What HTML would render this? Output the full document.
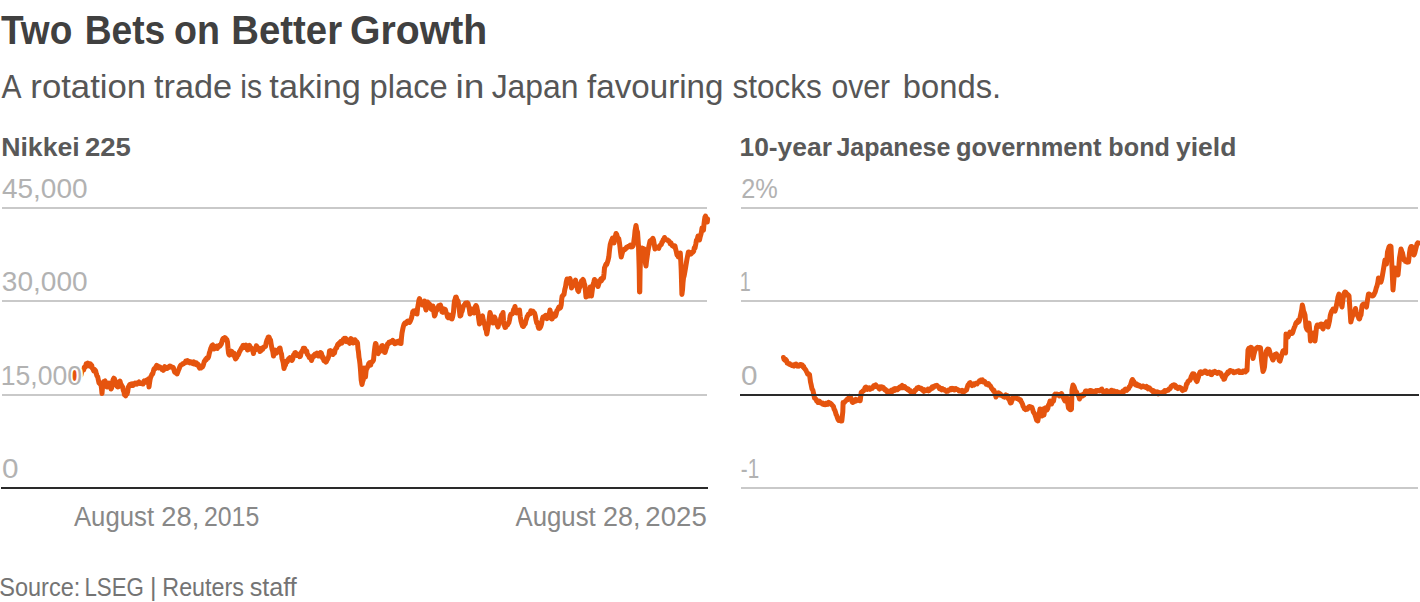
<!DOCTYPE html>
<html><head><meta charset="utf-8"><title>Two Bets on Better Growth</title>
<style>
html,body{margin:0;padding:0;background:#fff;}
body{width:1420px;height:602px;overflow:hidden;font-family:"Liberation Sans",sans-serif;}
svg{display:block;font-family:"Liberation Sans",sans-serif;}
.title{font-weight:bold;font-size:40px;fill:#404040;}
.sub{font-size:34px;fill:#565656;}
.head{font-weight:bold;font-size:25px;fill:#595959;}
.tick{font-size:27px;fill:#b2b2b2;paint-order:stroke;stroke:#fff;stroke-width:4px;stroke-linejoin:round;}
.date{font-size:27px;fill:#888888;}
.src{font-size:25px;fill:#747474;}
.grid{stroke:#c9c9c9;stroke-width:2;}
.zero{stroke:#2a2a2a;stroke-width:2;}
.ln{fill:none;stroke:#e5540e;stroke-width:5;stroke-linejoin:round;stroke-linecap:round;}
</style></head>
<body>
<svg width="1420" height="602" viewBox="0 0 1420 602">
<rect width="1420" height="602" fill="#fff"/>
<!-- chart 1 grid -->
<line class="grid" x1="2" x2="707" y1="208" y2="208"/>
<line class="grid" x1="2" x2="707" y1="301" y2="301"/>
<line class="grid" x1="2" x2="707" y1="395" y2="395"/>
<!-- chart 2 grid -->
<line class="grid" x1="741" x2="1418" y1="208" y2="208"/>
<line class="grid" x1="741" x2="1418" y1="301" y2="301"/>
<line class="grid" x1="741" x2="1418" y1="488" y2="488"/>

<polyline class="ln" points="72.5,379.0 73.0,373.5 73.5,370.5 74.0,376.4 74.5,380.0 75.0,375.9 75.5,370.0 76.2,372.2 77.0,376.0 77.7,374.3 78.3,372.5 79.0,371.0 79.7,372.8 80.3,374.6 81.0,375.0 81.7,372.0 82.3,370.1 83.0,370.0 83.7,370.0 84.3,367.4 85.0,366.5 85.6,366.9 86.2,363.8 86.8,364.8 87.3,365.3 87.9,363.1 88.5,363.5 89.1,365.6 89.8,366.1 90.4,363.8 91.0,366.0 91.7,365.4 92.3,368.1 93.0,369.0 93.7,370.8 94.3,369.3 95.0,370.0 95.7,371.0 96.3,373.7 97.0,376.0 97.7,376.7 98.3,379.7 99.0,383.0 99.7,383.5 100.3,384.3 101.0,385.0 101.5,388.3 102.0,393.5 102.5,387.3 103.0,383.0 103.7,381.4 104.3,381.5 105.0,381.0 105.7,382.3 106.3,383.4 107.0,387.0 107.7,386.8 108.3,384.5 109.0,383.0 109.7,385.5 110.3,385.9 111.0,389.0 111.7,387.7 112.3,384.2 113.0,380.0 113.8,378.2 114.5,379.0 115.2,380.9 116.0,384.0 116.7,385.8 117.3,386.7 118.0,387.0 118.7,386.5 119.3,382.7 120.0,381.0 120.7,383.8 121.3,384.9 122.0,386.0 122.7,387.3 123.3,390.3 124.0,392.0 124.5,394.8 125.0,395.0 125.7,395.8 126.3,394.4 127.0,394.0 127.7,391.6 128.3,387.1 129.0,386.0 129.7,384.5 130.3,385.7 131.0,384.0 131.7,384.2 132.3,383.9 133.0,385.5 133.7,384.8 134.3,384.5 135.0,383.0 135.7,383.9 136.3,383.2 137.0,384.0 137.7,383.1 138.3,382.7 139.0,382.0 139.7,383.4 140.3,383.1 141.0,383.5 141.7,383.3 142.3,383.8 143.0,384.0 143.7,381.6 144.3,380.8 145.0,381.5 145.7,381.7 146.3,382.1 147.0,380.0 147.8,379.8 148.5,379.0 149.0,387.0 149.5,383.1 150.0,380.0 150.7,376.9 151.3,376.0 152.0,374.0 152.7,374.0 153.3,371.6 154.0,369.0 154.7,368.3 155.3,368.6 156.0,366.5 156.7,365.4 157.3,366.2 158.0,366.0 158.7,367.9 159.3,366.9 160.0,367.0 160.7,367.7 161.3,367.9 162.0,369.5 162.7,369.3 163.3,370.4 164.0,368.5 164.7,366.5 165.3,368.8 166.0,367.5 166.7,368.4 167.3,368.5 168.0,367.0 168.7,367.5 169.3,367.4 170.0,366.0 170.7,366.4 171.3,366.9 172.0,367.0 172.7,367.7 173.3,367.5 174.0,370.0 174.7,372.3 175.3,372.2 176.0,373.0 176.5,372.5 177.0,374.0 177.7,372.3 178.3,370.6 179.0,369.0 179.7,367.2 180.3,365.8 181.0,365.0 181.7,364.6 182.3,364.4 183.0,363.5 183.7,363.7 184.3,363.0 185.0,363.0 185.7,361.1 186.3,361.4 187.0,362.0 187.7,360.7 188.3,362.0 189.0,361.5 189.7,362.9 190.3,362.8 191.0,362.0 191.7,363.2 192.3,363.4 193.0,362.5 193.7,361.8 194.3,364.0 195.0,363.0 195.7,364.3 196.3,362.9 197.0,365.0 197.7,364.0 198.3,364.7 199.0,367.0 199.7,368.2 200.3,366.8 201.0,368.0 201.7,366.0 202.3,367.1 203.0,366.0 203.7,363.8 204.3,361.2 205.0,361.0 205.6,359.2 206.2,359.9 206.8,358.1 207.4,357.8 208.0,358.0 208.7,356.4 209.3,353.2 210.0,351.0 210.7,348.6 211.3,347.2 212.0,345.5 212.7,345.0 213.3,347.4 214.0,349.0 214.7,348.2 215.3,346.9 216.0,347.5 216.7,346.0 217.3,348.5 218.0,347.0 218.7,346.7 219.3,345.3 220.0,346.0 220.7,344.9 221.3,344.1 222.0,341.5 222.7,339.2 223.3,338.5 224.0,339.5 224.8,337.5 225.5,338.0 226.2,340.1 226.8,339.5 227.5,342.0 228.0,348.2 228.5,353.0 229.0,354.6 229.5,355.0 230.2,353.2 231.0,351.0 231.8,351.6 232.5,354.0 233.2,355.1 234.0,353.0 234.8,357.0 235.5,359.0 236.2,358.1 237.0,357.0 237.7,354.7 238.3,354.8 239.0,353.0 239.7,351.3 240.3,350.6 241.0,349.0 241.6,347.8 242.2,348.2 242.9,345.6 243.5,346.5 244.1,345.4 244.8,347.3 245.4,346.7 246.0,345.0 246.8,346.8 247.5,350.0 248.2,349.7 248.8,346.4 249.5,345.5 250.2,347.8 250.8,348.0 251.5,348.0 252.2,349.5 252.8,350.8 253.5,353.5 254.2,349.6 255.0,349.0 255.7,349.5 256.3,345.8 257.0,346.5 257.7,348.3 258.3,349.4 259.0,348.5 259.5,350.2 260.0,351.5 260.7,349.2 261.3,350.4 262.0,348.0 262.7,349.3 263.3,348.0 264.0,347.0 264.8,346.8 265.5,346.5 266.2,342.8 267.0,340.0 267.7,338.5 268.3,337.0 269.0,337.0 269.8,339.1 270.5,340.0 271.2,344.3 272.0,349.0 272.8,351.5 273.5,356.0 274.2,351.7 275.0,350.0 275.8,352.1 276.5,353.0 277.2,351.3 278.0,351.0 278.7,350.0 279.3,348.4 280.0,348.0 280.8,352.3 281.5,354.0 282.0,358.4 282.5,360.0 283.2,362.6 284.0,368.5 284.8,365.7 285.5,365.0 286.0,362.4 286.5,361.0 287.2,362.0 287.8,360.6 288.5,359.0 289.2,358.3 289.8,357.7 290.5,358.5 291.2,360.1 292.0,360.5 292.8,358.9 293.5,355.0 294.2,355.6 294.8,352.8 295.5,352.5 296.2,355.3 297.0,355.5 297.7,355.6 298.3,354.4 299.0,354.0 299.8,356.7 300.5,356.0 301.2,352.6 302.0,351.0 302.7,351.1 303.3,348.3 304.0,349.0 304.7,348.4 305.3,351.4 306.0,350.5 306.7,351.0 307.3,354.4 308.0,355.0 308.7,356.0 309.3,357.5 310.0,357.0 310.8,358.3 311.5,360.5 312.2,358.2 313.0,357.0 313.7,355.3 314.3,356.2 315.0,354.0 315.7,354.0 316.3,354.9 317.0,353.0 317.8,355.8 318.5,356.0 319.2,353.6 319.8,353.8 320.5,352.5 321.2,353.0 321.8,354.6 322.5,358.0 323.2,357.2 323.8,360.6 324.5,360.0 325.2,361.5 325.8,362.1 326.5,361.5 327.2,359.5 327.8,358.9 328.5,357.0 329.0,355.0 329.5,351.0 330.2,350.6 330.8,351.2 331.5,351.0 332.2,351.8 333.0,354.5 333.8,352.3 334.5,353.0 335.2,349.7 336.0,348.0 336.7,348.0 337.3,345.6 338.0,344.0 338.7,344.9 339.3,342.9 340.0,342.5 340.6,341.6 341.2,343.2 341.9,343.2 342.5,342.0 343.1,339.6 343.8,341.1 344.4,338.4 345.0,339.0 345.7,338.4 346.3,341.6 347.0,341.0 347.7,339.9 348.3,341.1 349.0,342.5 349.6,343.3 350.2,340.5 350.9,338.6 351.5,339.0 352.2,339.9 353.0,343.0 353.6,341.5 354.2,342.6 354.9,339.8 355.5,340.5 356.2,342.7 356.8,341.8 357.5,343.0 358.0,349.1 358.5,352.0 359.0,357.4 359.5,360.0 360.0,364.3 360.5,370.0 361.2,380.0 362.0,384.5 362.6,381.4 363.2,380.0 364.0,368.0 364.8,372.4 365.5,377.0 366.0,371.6 366.5,369.0 367.2,368.0 368.0,366.0 368.7,363.8 369.3,363.0 370.0,364.0 370.7,365.0 371.3,362.0 372.0,362.0 372.8,361.3 373.5,360.0 374.0,354.8 374.5,350.0 375.0,346.1 375.5,343.5 376.0,343.8 376.5,347.0 377.0,351.4 377.5,353.0 378.2,353.6 379.0,351.0 379.7,351.6 380.3,347.7 381.0,348.0 381.8,345.8 382.5,345.5 383.2,347.7 384.0,349.0 384.5,352.4 385.0,352.5 385.5,350.9 386.0,349.0 386.8,347.1 387.5,344.0 388.1,344.2 388.8,342.4 389.4,343.0 390.0,342.5 390.7,341.7 391.3,341.3 392.0,342.0 392.7,340.4 393.3,340.9 394.0,341.5 394.7,343.8 395.3,342.7 396.0,343.5 396.8,343.0 397.5,341.5 398.2,341.7 399.0,341.0 399.7,343.3 400.3,342.3 401.0,343.5 401.5,337.6 402.0,333.0 402.8,328.9 403.5,326.0 404.2,323.9 405.0,323.0 405.7,323.7 406.3,323.3 407.0,321.5 407.6,321.1 408.2,321.4 408.9,322.4 409.5,322.5 410.2,321.3 410.8,319.8 411.5,318.0 412.2,314.8 412.8,311.7 413.5,311.0 414.2,310.8 414.8,310.9 415.5,313.0 416.2,313.7 417.0,314.0 417.6,308.0 418.2,305.0 418.9,300.3 419.5,298.5 420.2,301.2 421.0,303.0 421.8,303.3 422.5,305.0 423.2,304.7 423.8,302.3 424.5,301.0 425.2,306.7 426.0,310.0 426.8,304.8 427.5,302.0 428.2,302.7 428.8,304.3 429.5,304.0 430.2,305.1 431.0,309.0 431.7,309.5 432.3,305.9 433.0,306.0 433.8,311.9 434.5,316.0 435.2,314.6 436.0,310.0 436.7,310.4 437.3,308.1 438.0,308.0 438.6,305.9 439.2,306.5 439.9,307.2 440.5,305.0 441.2,307.8 442.0,312.0 442.7,312.3 443.3,308.8 444.0,309.0 444.7,311.4 445.3,309.4 446.0,312.0 446.8,313.9 447.5,317.0 448.2,317.7 448.8,316.7 449.5,315.0 450.1,317.4 450.8,318.2 451.4,318.8 452.0,319.0 452.8,316.1 453.5,312.0 454.0,305.4 454.5,301.0 455.1,299.4 455.6,297.2 456.2,297.0 456.8,299.1 457.4,300.2 458.0,301.0 458.7,305.2 459.3,309.5 460.0,316.0 460.8,315.6 461.5,312.0 462.2,311.0 462.8,308.2 463.5,306.0 464.2,305.1 464.8,305.2 465.5,303.0 466.1,303.0 466.8,302.9 467.4,302.8 468.0,303.5 468.7,306.2 469.3,308.9 470.0,314.0 470.7,312.8 471.3,310.4 472.0,309.0 472.7,310.6 473.3,310.2 474.0,313.0 474.7,310.0 475.3,306.8 476.0,305.5 476.7,306.7 477.3,309.7 478.0,313.0 478.8,319.6 479.5,324.0 480.2,320.7 481.0,318.0 481.8,316.7 482.5,316.0 483.2,319.9 484.0,323.0 484.8,325.1 485.5,329.0 486.1,329.8 486.8,334.0 487.4,330.8 487.9,327.3 488.5,324.0 489.2,318.8 490.0,312.5 490.8,315.0 491.5,318.0 492.2,321.1 493.0,323.0 493.8,320.8 494.5,317.0 495.2,318.6 496.0,322.0 496.7,323.6 497.3,325.3 498.0,327.0 498.7,324.1 499.3,322.7 500.0,321.0 500.8,318.2 501.5,315.0 502.2,315.1 503.0,312.5 503.5,320.2 504.0,325.0 504.5,325.5 505.0,327.5 505.6,327.4 506.2,324.7 506.9,324.2 507.5,325.0 508.2,323.4 508.8,322.9 509.5,320.0 510.2,315.8 511.0,314.0 511.7,314.2 512.3,314.0 513.0,312.0 513.7,309.5 514.3,309.0 515.0,306.5 515.8,310.9 516.5,313.0 517.2,311.6 518.0,311.0 518.8,311.2 519.5,310.0 520.2,316.3 521.0,321.0 521.8,323.8 522.5,326.0 523.2,326.5 523.8,326.0 524.5,324.0 525.2,323.9 525.8,320.9 526.5,319.0 527.1,316.6 527.8,315.7 528.4,314.3 529.0,314.0 529.6,313.6 530.2,313.7 530.8,310.7 531.4,312.2 532.0,311.0 532.6,312.2 533.2,311.5 533.9,312.6 534.5,313.0 535.2,315.4 536.0,320.0 536.7,322.8 537.3,322.4 538.0,326.0 538.7,328.3 539.3,328.4 540.0,328.0 540.8,326.4 541.5,324.0 542.2,319.7 543.0,317.0 543.7,318.1 544.3,317.9 545.0,316.0 545.6,315.3 546.2,317.9 546.9,318.7 547.5,318.0 548.2,316.5 549.0,314.0 549.5,312.7 550.0,310.0 550.8,314.3 551.5,319.0 552.2,318.8 552.8,317.3 553.5,314.0 554.2,314.3 554.8,316.4 555.5,316.0 556.2,313.8 556.8,310.9 557.5,310.0 558.2,308.6 558.8,307.1 559.5,307.5 560.1,308.1 560.6,307.4 561.2,305.0 561.7,299.2 562.2,296.0 562.8,295.8 563.4,294.7 564.0,294.5 564.8,289.5 565.5,287.0 566.2,282.3 567.0,279.0 567.8,280.1 568.5,283.0 569.2,281.6 570.0,278.5 570.8,281.6 571.5,288.0 572.2,285.9 572.8,285.8 573.5,285.0 574.2,281.7 574.8,282.1 575.5,280.0 576.2,283.9 577.0,287.0 577.8,290.4 578.5,291.5 579.2,288.3 580.0,287.0 580.8,283.3 581.5,281.0 582.2,280.4 583.0,279.5 583.6,280.6 584.2,283.5 584.8,285.0 585.4,290.2 586.0,297.0 586.8,294.1 587.5,290.0 588.2,294.0 589.0,296.0 589.6,292.5 590.2,287.0 590.9,293.1 591.5,296.0 592.2,290.7 593.0,285.0 593.8,282.2 594.5,279.5 595.2,281.5 596.0,281.0 596.7,283.7 597.3,284.9 598.0,286.5 598.7,284.3 599.3,282.1 600.0,281.0 600.7,279.2 601.3,281.0 602.0,279.5 602.8,277.5 603.5,278.0 604.0,273.8 604.5,268.0 605.2,266.2 606.0,264.0 606.7,264.4 607.3,262.6 608.0,260.5 608.8,256.9 609.5,250.0 610.2,244.8 611.0,242.0 611.8,240.0 612.5,238.0 613.2,240.7 614.0,243.0 614.7,239.2 615.3,236.7 616.0,233.5 616.7,234.5 617.3,236.6 618.0,238.0 618.8,238.8 619.5,243.0 620.0,247.3 620.5,252.0 621.2,257.0 621.9,254.3 622.5,252.0 623.2,250.3 623.8,249.7 624.5,249.0 625.1,249.5 625.8,248.6 626.4,247.5 627.0,247.0 627.7,247.3 628.3,246.3 629.0,246.5 629.7,245.7 630.3,245.1 631.0,247.0 631.7,245.9 632.3,246.7 633.0,246.0 633.5,244.3 634.0,240.0 634.5,236.6 635.0,231.0 635.5,228.3 636.0,225.5 636.8,230.4 637.5,232.0 638.0,238.9 638.5,246.0 639.2,270.0 639.5,292.0 639.8,292.0 640.1,270.0 640.8,252.0 641.4,251.1 642.0,248.0 642.5,248.2 643.0,249.0 643.6,249.8 644.2,249.0 645.0,258.0 645.5,263.7 646.0,266.0 646.5,261.3 647.0,258.0 647.8,251.9 648.5,248.0 649.2,244.9 650.0,241.0 650.7,240.8 651.3,239.9 652.0,240.0 652.8,238.3 653.5,240.0 654.2,244.1 655.0,249.0 655.8,247.7 656.5,247.0 657.2,247.2 658.0,248.0 658.7,248.4 659.3,246.6 660.0,245.5 660.7,245.1 661.3,244.5 662.0,242.0 662.6,241.7 663.2,239.7 663.9,239.5 664.5,237.5 665.1,238.6 665.8,239.3 666.4,239.8 667.0,240.0 667.7,240.0 668.3,241.1 669.0,241.0 669.7,242.1 670.3,243.8 671.0,243.0 671.7,244.8 672.3,245.8 673.0,245.5 673.7,246.6 674.3,246.9 675.0,246.0 675.7,249.4 676.3,251.5 677.0,255.0 677.7,254.9 678.3,257.0 679.0,257.0 679.6,256.3 680.3,253.0 680.8,261.7 681.2,270.0 681.9,294.5 682.5,290.0 683.0,282.8 683.5,278.0 684.2,275.6 685.0,271.0 685.8,266.4 686.5,262.0 687.1,258.4 687.8,255.0 688.4,252.0 689.0,252.0 689.7,252.7 690.3,254.2 691.0,254.0 691.7,253.1 692.3,252.2 693.0,252.0 693.7,251.2 694.3,247.7 695.0,248.0 695.8,244.0 696.5,240.0 697.2,239.5 698.0,236.0 698.8,238.6 699.5,240.0 700.2,236.7 701.0,234.0 701.5,231.6 702.0,228.0 702.8,229.4 703.5,230.0 704.0,224.0 704.5,220.0 705.0,217.0 705.5,216.0 706.0,218.3 706.5,218.0 707.3,222.0 707.6,219.0"/>
<polyline class="ln" points="783.5,357.5 784.1,359.4 784.8,360.2 785.4,359.1 786.0,361.0 786.6,360.7 787.2,363.0 787.9,363.4 788.5,363.5 789.1,364.2 789.8,363.8 790.4,364.9 791.0,365.0 791.8,365.5 792.5,365.7 793.2,365.0 794.0,366.0 794.7,365.2 795.3,364.4 796.0,364.0 796.7,365.0 797.3,366.1 798.0,365.5 798.8,366.2 799.5,365.1 800.2,364.6 801.0,364.5 801.7,364.8 802.3,365.1 803.0,367.0 803.7,366.6 804.3,368.3 805.0,369.0 805.7,369.8 806.3,371.1 807.0,372.5 807.6,373.9 808.2,373.6 808.9,374.1 809.5,374.5 810.5,382.0 811.2,384.9 812.0,389.0 812.8,390.0 813.5,393.0 814.5,398.0 815.2,398.6 816.0,399.2 816.7,401.0 817.4,401.2 818.0,402.5 818.7,402.0 819.3,401.1 820.0,402.0 820.6,403.1 821.2,403.2 821.9,403.3 822.5,403.0 823.1,404.4 823.8,404.5 824.4,404.4 825.1,404.7 825.9,403.4 826.6,404.4 827.4,403.0 828.1,404.1 828.7,402.4 829.4,403.8 830.0,403.8 830.7,403.4 831.4,404.1 832.0,405.0 832.7,405.6 833.4,406.4 834.1,409.1 834.7,410.0 835.4,411.8 836.1,414.5 836.7,415.5 837.4,417.8 838.1,419.5 838.7,420.5 839.4,420.5 840.2,420.6 841.0,421.0 841.8,421.0 842.8,411.8 843.1,402.4 843.9,402.9 844.7,402.0 845.5,401.0 846.2,400.5 846.8,399.5 847.5,399.7 848.3,398.2 849.0,397.9 849.8,396.4 850.6,397.3 851.5,399.7 852.1,401.9 852.8,402.4 853.5,401.1 854.1,401.7 854.8,400.0 855.5,399.5 856.1,400.9 856.8,400.2 857.5,399.7 858.2,400.0 858.9,400.2 859.5,400.8 860.2,400.7 861.2,392.4 862.0,392.1 862.7,391.1 863.5,391.0 864.5,389.0 865.2,387.4 866.0,387.0 866.7,387.7 867.3,389.3 868.0,389.0 868.8,389.1 869.5,387.8 870.2,389.3 871.0,388.5 871.7,388.5 872.3,388.4 873.0,387.0 873.7,385.8 874.3,386.5 875.0,385.5 875.7,384.9 876.3,386.5 877.0,386.5 877.7,386.7 878.3,387.2 879.0,388.5 879.6,389.0 880.2,386.9 880.9,387.4 881.5,387.0 882.1,388.2 882.8,387.2 883.4,387.5 884.0,388.5 884.7,389.8 885.3,389.3 886.0,390.0 886.7,391.5 887.3,391.0 888.0,393.0 888.7,392.2 889.3,391.3 890.0,391.5 890.8,391.6 891.5,390.1 892.2,391.8 893.0,390.5 893.8,389.2 894.5,390.5 895.2,388.7 896.0,389.5 896.8,388.7 897.5,389.7 898.2,388.0 899.0,388.5 899.6,387.2 900.2,387.7 900.9,386.4 901.5,386.0 902.1,385.4 902.8,387.8 903.4,386.4 904.0,387.5 904.8,386.7 905.5,387.7 906.2,388.5 907.0,388.5 907.6,389.7 908.2,388.9 908.9,390.0 909.5,391.0 910.2,390.6 911.0,392.1 911.8,393.5 912.5,393.5 913.1,393.2 913.8,392.6 914.4,391.4 915.0,390.0 915.7,390.1 916.3,389.1 917.0,388.0 917.8,387.9 918.5,387.4 919.2,388.4 920.0,388.0 920.8,388.2 921.5,388.4 922.2,389.8 923.0,390.5 923.8,391.3 924.5,389.7 925.2,390.7 926.0,390.5 926.7,390.1 927.3,390.2 928.0,389.2 928.7,390.8 929.3,389.1 930.0,389.5 930.7,389.3 931.3,388.5 932.0,387.2 932.7,388.0 933.3,386.6 934.0,387.0 934.7,385.8 935.4,385.6 936.1,385.7 936.8,385.3 937.5,386.0 938.1,386.8 938.8,387.0 939.4,388.6 940.0,388.0 940.8,389.3 941.5,389.8 942.2,388.5 943.0,389.5 943.7,389.6 944.3,389.5 945.0,390.5 945.7,390.8 946.3,391.4 947.0,391.0 947.8,391.2 948.5,390.0 949.2,390.1 950.0,390.1 950.8,388.7 951.5,389.5 952.2,388.5 952.9,389.3 953.6,388.6 954.4,390.0 955.1,388.9 955.8,388.6 956.5,389.5 957.1,389.2 957.8,389.7 958.4,390.0 959.0,391.0 959.7,391.0 960.3,390.9 961.0,390.6 961.7,391.3 962.3,390.4 963.0,391.0 963.7,391.7 964.4,391.6 965.1,390.9 965.8,390.1 966.5,390.0 967.2,387.5 968.0,385.0 968.8,384.2 969.5,383.0 970.1,382.6 970.8,384.1 971.4,384.9 972.0,385.5 972.8,384.4 973.5,383.9 974.2,385.0 975.0,384.0 975.8,383.3 976.5,383.3 977.2,383.8 978.0,382.5 978.8,382.1 979.5,380.8 980.2,381.7 981.0,380.0 981.8,380.2 982.5,379.9 983.2,381.9 984.0,382.0 984.8,381.6 985.5,382.6 986.2,384.2 987.0,384.0 987.8,384.8 988.5,383.7 989.2,385.0 990.0,385.5 990.7,386.5 991.3,387.8 992.0,389.0 992.6,389.1 993.2,390.7 993.9,390.3 994.5,392.0 995.2,394.0 996.0,397.0 996.8,394.7 997.5,393.0 998.2,394.4 998.9,392.9 999.6,394.8 1000.3,393.9 1001.0,395.0 1001.8,395.7 1002.5,395.8 1003.2,396.4 1004.0,397.0 1004.6,397.2 1005.2,396.0 1005.9,395.0 1006.5,395.5 1007.1,395.5 1007.8,396.3 1008.4,398.9 1009.0,399.0 1009.8,401.3 1010.5,403.0 1011.2,402.7 1011.8,400.8 1012.5,399.0 1013.2,397.1 1013.8,397.7 1014.5,396.5 1015.1,397.6 1015.8,398.0 1016.4,398.0 1017.0,398.5 1017.8,398.4 1018.5,398.9 1019.2,399.9 1020.0,399.5 1020.6,400.1 1021.2,401.8 1021.9,402.8 1022.5,404.0 1023.1,406.3 1023.8,407.2 1024.4,408.7 1025.0,409.0 1025.6,409.7 1026.2,408.6 1026.9,408.4 1027.5,409.0 1028.2,408.1 1028.8,406.8 1029.5,406.5 1030.1,406.6 1030.8,407.4 1031.4,408.2 1032.0,407.5 1032.7,409.5 1033.3,411.9 1034.0,413.0 1034.7,413.8 1035.3,416.0 1036.0,418.0 1036.6,420.1 1037.2,419.2 1037.8,421.0 1038.4,417.8 1039.0,415.0 1040.0,409.0 1041.0,410.0 1042.0,416.0 1043.0,409.0 1044.0,415.0 1045.0,408.0 1045.7,407.7 1046.3,408.4 1047.0,410.0 1047.8,408.4 1048.5,405.0 1049.2,404.1 1050.0,401.0 1050.8,402.8 1051.5,404.0 1052.2,402.2 1052.8,401.6 1053.5,401.0 1054.5,395.0 1055.1,394.2 1055.8,394.9 1056.4,394.6 1057.0,394.0 1057.6,394.4 1058.2,395.1 1058.9,394.6 1059.5,396.0 1060.2,395.3 1060.8,395.3 1061.5,393.5 1062.2,395.6 1062.8,395.6 1063.5,398.0 1064.2,399.5 1065.0,401.0 1065.7,400.5 1066.3,398.5 1067.0,398.0 1067.8,403.9 1068.5,408.0 1069.2,408.7 1070.0,409.5 1070.8,409.7 1071.5,409.0 1072.0,390.0 1073.0,385.0 1073.8,386.3 1074.5,388.0 1075.2,390.4 1075.8,391.3 1076.5,392.0 1077.2,393.7 1078.0,395.0 1078.8,396.2 1079.5,399.0 1080.2,397.5 1080.8,395.3 1081.5,395.0 1082.1,395.2 1082.8,395.8 1083.4,394.3 1084.0,395.0 1084.8,393.0 1085.5,391.0 1086.1,391.1 1086.8,391.0 1087.4,391.8 1088.0,391.5 1088.7,392.1 1089.3,391.3 1090.0,390.5 1090.7,390.7 1091.3,392.0 1092.0,390.9 1092.7,392.0 1093.3,392.1 1094.0,392.0 1094.7,392.3 1095.3,392.3 1096.0,390.6 1096.7,391.3 1097.3,390.5 1098.0,390.5 1098.8,390.6 1099.5,391.0 1100.2,390.0 1101.0,389.5 1101.8,389.1 1102.5,390.7 1103.2,391.8 1104.0,392.0 1104.7,392.8 1105.3,392.2 1106.0,392.4 1106.7,390.6 1107.3,392.6 1108.0,391.5 1108.7,391.9 1109.3,391.6 1110.0,392.1 1110.7,392.0 1111.3,390.2 1112.0,391.0 1112.7,391.9 1113.3,391.9 1114.0,390.8 1114.7,392.2 1115.3,392.0 1116.0,392.0 1116.7,391.6 1117.3,393.2 1118.0,392.0 1118.7,393.2 1119.3,393.1 1120.0,393.5 1120.7,392.5 1121.3,392.8 1122.0,392.2 1122.7,391.2 1123.3,392.4 1124.0,391.0 1124.7,389.7 1125.3,389.2 1126.0,390.0 1126.7,390.4 1127.3,389.7 1128.0,389.0 1128.6,388.6 1129.2,387.0 1129.9,386.4 1130.5,385.0 1131.2,382.8 1131.8,380.8 1132.5,379.5 1133.2,381.0 1133.8,381.5 1134.5,384.0 1135.2,383.3 1135.9,385.0 1136.6,383.9 1137.3,385.4 1138.0,385.0 1138.7,385.9 1139.3,385.3 1140.0,386.1 1140.7,386.6 1141.3,387.1 1142.0,386.5 1142.7,385.9 1143.3,386.1 1144.0,386.7 1144.7,387.1 1145.3,386.9 1146.0,387.5 1146.7,386.5 1147.4,387.8 1148.1,388.8 1148.8,387.6 1149.5,388.0 1150.2,388.9 1150.8,389.4 1151.5,390.5 1152.2,390.6 1152.9,391.7 1153.6,390.7 1154.3,391.6 1155.0,391.5 1155.7,391.8 1156.3,392.3 1157.0,393.4 1157.7,391.9 1158.3,393.9 1159.0,393.5 1159.8,392.8 1160.5,393.3 1161.2,393.4 1162.0,392.5 1162.7,392.6 1163.3,391.8 1164.0,392.5 1164.7,390.6 1165.3,391.5 1166.0,391.0 1166.8,390.3 1167.5,390.1 1168.2,390.3 1169.0,389.0 1169.8,388.9 1170.5,387.8 1171.2,386.3 1172.0,386.0 1172.6,385.2 1173.2,385.4 1173.9,384.7 1174.5,385.0 1175.1,385.3 1175.8,387.5 1176.4,386.4 1177.0,388.0 1177.8,388.6 1178.5,387.5 1179.2,387.3 1180.0,387.5 1180.6,387.9 1181.2,388.1 1181.9,389.7 1182.5,390.5 1183.1,389.5 1183.8,389.9 1184.4,389.3 1185.0,389.5 1185.8,387.6 1186.5,384.0 1187.2,383.9 1187.8,381.9 1188.5,381.0 1189.2,380.6 1189.8,380.6 1190.5,379.0 1191.2,376.6 1192.0,375.0 1192.7,373.8 1193.3,373.8 1194.0,374.0 1194.8,375.8 1195.5,379.0 1196.2,380.6 1197.0,381.5 1197.8,379.0 1198.5,377.0 1199.2,374.2 1200.0,372.0 1200.6,372.9 1201.2,371.9 1201.9,373.4 1202.5,373.0 1203.1,372.8 1203.8,371.8 1204.4,372.2 1205.0,371.0 1205.8,371.2 1206.5,372.8 1207.2,373.4 1208.0,373.0 1208.8,372.5 1209.5,372.0 1210.2,373.7 1211.0,374.5 1211.7,374.7 1212.3,373.4 1213.0,372.0 1213.7,372.4 1214.3,372.5 1215.0,371.5 1215.8,372.7 1216.5,372.6 1217.2,373.3 1218.0,372.5 1218.6,372.2 1219.2,373.0 1219.9,373.3 1220.5,373.0 1221.2,374.0 1221.8,375.4 1222.5,377.0 1223.2,377.0 1223.8,379.3 1224.5,379.0 1225.2,377.0 1225.8,375.6 1226.5,374.0 1227.1,374.2 1227.8,372.1 1228.4,373.1 1229.0,371.5 1229.8,370.7 1230.5,370.5 1231.2,371.2 1232.0,371.5 1232.8,371.3 1233.5,372.7 1234.2,372.7 1235.0,372.0 1235.8,372.3 1236.5,371.4 1237.2,371.3 1238.0,371.0 1238.8,370.8 1239.5,372.5 1240.2,371.9 1241.0,372.5 1241.8,371.8 1242.5,372.3 1243.2,371.0 1244.0,371.5 1244.8,370.8 1245.5,371.9 1246.2,369.9 1247.0,370.5 1247.5,360.0 1248.0,350.0 1248.7,348.5 1249.3,348.0 1250.0,348.0 1250.8,347.2 1251.5,347.5 1252.2,352.8 1253.0,358.5 1253.8,354.7 1254.5,352.0 1255.2,349.9 1256.0,348.5 1256.8,347.7 1257.5,347.4 1258.2,348.0 1259.0,347.5 1259.8,347.4 1260.5,348.0 1261.5,360.0 1262.2,365.5 1263.0,371.5 1263.8,369.8 1264.5,367.0 1265.5,355.0 1266.2,351.5 1267.0,350.0 1267.7,349.1 1268.3,350.4 1269.0,349.5 1269.7,351.5 1270.3,354.4 1271.0,356.0 1271.7,356.5 1272.3,358.7 1273.0,360.0 1273.8,358.3 1274.5,355.0 1275.2,354.3 1275.8,354.9 1276.5,354.0 1277.2,355.4 1277.8,356.1 1278.5,357.5 1279.2,360.3 1280.0,361.0 1280.8,358.3 1281.5,356.0 1282.2,353.4 1283.0,351.0 1283.8,350.8 1284.5,350.0 1285.0,351.1 1285.6,353.0 1286.0,334.0 1286.7,335.7 1287.3,336.2 1288.0,337.0 1288.7,335.5 1289.3,333.8 1290.0,332.0 1290.6,333.3 1291.2,333.6 1291.9,333.5 1292.5,333.0 1293.2,330.9 1293.8,328.8 1294.5,327.0 1295.1,325.8 1295.8,323.5 1296.4,322.4 1297.0,322.0 1297.6,322.6 1298.2,320.2 1298.9,321.5 1299.5,320.0 1300.2,316.9 1301.0,313.0 1301.7,309.9 1302.3,305.0 1302.9,307.1 1303.5,311.0 1304.2,312.6 1305.0,315.0 1306.0,327.0 1306.8,329.2 1307.5,330.0 1308.2,325.4 1309.0,323.0 1309.8,331.1 1310.5,341.0 1311.2,338.7 1312.0,337.0 1312.8,334.3 1313.5,333.0 1314.2,336.2 1315.0,341.0 1315.8,334.4 1316.5,327.0 1317.2,325.1 1318.0,325.0 1318.7,326.4 1319.3,326.0 1320.0,326.0 1320.8,324.0 1321.5,324.0 1322.2,327.4 1323.0,329.0 1323.7,326.8 1324.3,325.6 1325.0,324.0 1325.8,323.1 1326.5,322.0 1327.2,323.7 1328.0,327.0 1328.8,324.0 1329.5,321.0 1330.2,316.0 1331.0,313.0 1331.7,311.0 1332.3,311.3 1333.0,309.0 1333.7,310.4 1334.3,310.4 1335.0,311.0 1335.8,308.4 1336.5,305.0 1337.2,301.8 1338.0,297.0 1339.0,294.0 1339.8,297.2 1340.5,302.0 1341.2,304.5 1342.0,307.0 1342.8,300.7 1343.5,296.0 1344.2,293.2 1345.0,292.0 1345.7,292.1 1346.3,293.4 1347.0,295.0 1347.7,294.4 1348.3,295.0 1349.0,296.0 1350.0,310.0 1350.8,322.0 1351.7,318.7 1352.5,316.0 1353.2,314.3 1354.0,312.0 1354.8,311.0 1355.5,308.5 1356.2,312.1 1357.0,314.0 1357.6,315.7 1358.2,316.5 1358.9,318.7 1359.5,319.0 1360.2,316.3 1361.0,315.0 1362.0,306.0 1362.7,304.5 1363.3,305.4 1364.0,304.0 1364.6,305.0 1365.2,304.9 1365.9,306.0 1366.5,307.0 1367.5,300.0 1368.5,294.0 1369.2,293.9 1369.8,294.5 1370.5,295.0 1371.2,295.2 1371.8,295.4 1372.5,296.0 1373.1,295.8 1373.8,294.9 1374.4,293.5 1375.0,292.5 1375.7,290.3 1376.3,287.7 1377.0,286.0 1377.8,282.6 1378.5,278.0 1379.1,280.1 1379.8,279.4 1380.4,281.4 1381.0,282.0 1381.8,278.9 1382.5,275.0 1383.2,270.8 1384.0,266.0 1385.0,260.0 1385.8,261.0 1386.5,264.0 1387.5,252.0 1388.2,249.6 1389.0,247.0 1389.7,246.2 1390.3,246.0 1391.0,246.5 1392.0,268.0 1393.0,290.0 1394.0,278.0 1395.0,268.0 1395.7,269.5 1396.3,271.0 1397.0,272.0 1398.0,275.0 1398.8,266.8 1399.5,258.0 1400.2,254.0 1401.0,249.0 1401.8,251.4 1402.5,253.0 1403.2,256.4 1404.0,260.0 1404.7,259.3 1405.3,261.3 1406.0,261.0 1406.6,262.0 1407.2,262.2 1407.9,262.0 1408.5,262.0 1409.5,253.0 1410.2,248.7 1411.0,246.5 1411.8,246.6 1412.5,248.0 1413.2,250.6 1414.0,255.0 1414.8,252.8 1415.5,250.0 1416.2,247.1 1417.0,244.0 1417.8,242.8 1418.5,243.0"/>

<line class="zero" x1="1" x2="708" y1="488" y2="488"/>
<line class="zero" x1="740" x2="1419" y1="395" y2="395"/>

<text class="title" x="1.00" y="44" textLength="71.27" lengthAdjust="spacingAndGlyphs">Two</text>
<text class="title" x="84.71" y="44" textLength="80.57" lengthAdjust="spacingAndGlyphs">Bets</text>
<text class="title" x="174.12" y="44" textLength="45.94" lengthAdjust="spacingAndGlyphs">on</text>
<text class="title" x="231.33" y="44" textLength="110.74" lengthAdjust="spacingAndGlyphs">Better</text>
<text class="title" x="350.04" y="44" textLength="137.10" lengthAdjust="spacingAndGlyphs">Growth</text>
<text class="sub" x="1.60" y="97.5" textLength="20.01" lengthAdjust="spacingAndGlyphs">A</text>
<text class="sub" x="30.36" y="97.5" textLength="115.80" lengthAdjust="spacingAndGlyphs">rotation</text>
<text class="sub" x="153.99" y="97.5" textLength="78.12" lengthAdjust="spacingAndGlyphs">trade</text>
<text class="sub" x="240.23" y="97.5" textLength="21.76" lengthAdjust="spacingAndGlyphs">is</text>
<text class="sub" x="269.39" y="97.5" textLength="91.35" lengthAdjust="spacingAndGlyphs">taking</text>
<text class="sub" x="369.58" y="97.5" textLength="78.16" lengthAdjust="spacingAndGlyphs">place</text>
<text class="sub" x="455.52" y="97.5" textLength="28.87" lengthAdjust="spacingAndGlyphs">in</text>
<text class="sub" x="491.66" y="97.5" textLength="86.88" lengthAdjust="spacingAndGlyphs">Japan</text>
<text class="sub" x="587.02" y="97.5" textLength="136.51" lengthAdjust="spacingAndGlyphs">favouring</text>
<text class="sub" x="732.47" y="97.5" textLength="89.39" lengthAdjust="spacingAndGlyphs">stocks</text>
<text class="sub" x="831.41" y="97.5" textLength="58.71" lengthAdjust="spacingAndGlyphs">over</text>
<text class="sub" x="902.87" y="97.5" textLength="98.30" lengthAdjust="spacingAndGlyphs">bonds.</text>
<text class="head" x="1.17" y="155.7" textLength="78.62" lengthAdjust="spacingAndGlyphs">Nikkei</text>
<text class="head" x="84.90" y="155.7" textLength="45.99" lengthAdjust="spacingAndGlyphs">225</text>
<text class="head" x="739.49" y="155.7" textLength="92.42" lengthAdjust="spacingAndGlyphs">10-year</text>
<text class="head" x="836.40" y="155.7" textLength="113.97" lengthAdjust="spacingAndGlyphs">Japanese</text>
<text class="head" x="955.98" y="155.7" textLength="145.51" lengthAdjust="spacingAndGlyphs">government</text>
<text class="head" x="1108.39" y="155.7" textLength="61.52" lengthAdjust="spacingAndGlyphs">bond</text>
<text class="head" x="1176.00" y="155.7" textLength="60.40" lengthAdjust="spacingAndGlyphs">yield</text>
<text class="tick" x="1.96" y="197.9" textLength="85.55" lengthAdjust="spacingAndGlyphs">45,000</text>
<text class="tick" x="1.86" y="291.3" textLength="85.75" lengthAdjust="spacingAndGlyphs">30,000</text>
<text class="tick" x="0.83" y="384.5" textLength="81.25" lengthAdjust="spacingAndGlyphs">15,000</text>
<text class="tick" x="1.90" y="478" textLength="16.53" lengthAdjust="spacingAndGlyphs">0</text>
<text class="tick" x="741.26" y="197.9" textLength="36.60" lengthAdjust="spacingAndGlyphs">2%</text>
<text class="tick" x="739.73" y="291.3" textLength="11.02" lengthAdjust="spacingAndGlyphs">1</text>
<text class="tick" x="741.10" y="384.5" textLength="16.53" lengthAdjust="spacingAndGlyphs">0</text>
<text class="tick" x="740.84" y="478" textLength="18.34" lengthAdjust="spacingAndGlyphs">-1</text>
<text class="date" x="73.90" y="525.8" textLength="80.16" lengthAdjust="spacingAndGlyphs">August</text>
<text class="date" x="161.29" y="525.8" textLength="37.99" lengthAdjust="spacingAndGlyphs">28,</text>
<text class="date" x="203.98" y="525.8" textLength="55.31" lengthAdjust="spacingAndGlyphs">2015</text>
<text class="date" x="515.50" y="525.8" textLength="80.26" lengthAdjust="spacingAndGlyphs">August</text>
<text class="date" x="603.00" y="525.8" textLength="37.44" lengthAdjust="spacingAndGlyphs">28,</text>
<text class="date" x="645.38" y="525.8" textLength="61.42" lengthAdjust="spacingAndGlyphs">2025</text>
<text class="src" x="-0.78" y="595.7" textLength="81.02" lengthAdjust="spacingAndGlyphs">Source:</text>
<text class="src" x="84.42" y="595.7" textLength="59.50" lengthAdjust="spacingAndGlyphs">LSEG</text>
<text class="src" x="149.90" y="595.7" textLength="6.50" lengthAdjust="spacingAndGlyphs">|</text>
<text class="src" x="162.34" y="595.7" textLength="81.57" lengthAdjust="spacingAndGlyphs">Reuters</text>
<text class="src" x="249.69" y="595.7" textLength="47.10" lengthAdjust="spacingAndGlyphs">staff</text>
</svg>
</body></html>
